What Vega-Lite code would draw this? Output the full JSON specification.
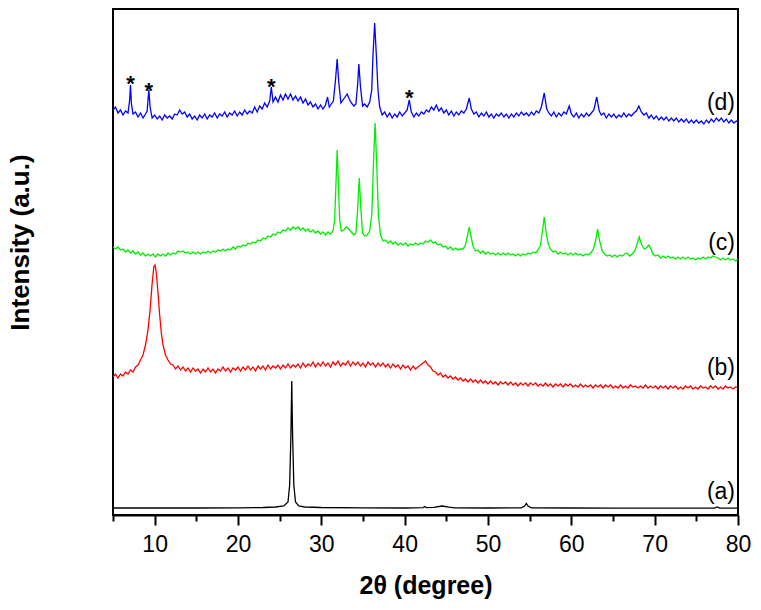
{
"$schema": "https://vega.github.io/schema/vega-lite/v6.json",
"width": 625, "height": 506,
"autosize": "none",
"padding": {"left": 113, "top": 9, "right": 23, "bottom": 95},
"background": "white",
"config": {"view": {"stroke": "black", "strokeWidth": 2}, "font": "Liberation Sans"},
"datasets": {
"xrd": [
{"s":"a","x":5,"y":7},{"s":"a","x":10,"y":7},{"s":"a","x":15,"y":7},{"s":"a","x":20,"y":7.2},{"s":"a","x":23,"y":7.5},{"s":"a","x":24.5,"y":8},{"s":"a","x":25.5,"y":9},{"s":"a","x":26,"y":13},{"s":"a","x":26.2,"y":30},{"s":"a","x":26.35,"y":80},{"s":"a","x":26.45,"y":134},{"s":"a","x":26.55,"y":80},{"s":"a","x":26.7,"y":30},{"s":"a","x":26.9,"y":13},{"s":"a","x":27.3,"y":9},{"s":"a","x":28,"y":8},{"s":"a","x":30,"y":7.5},{"s":"a","x":35,"y":7.2},{"s":"a","x":40,"y":7},{"s":"a","x":42.2,"y":7.3},{"s":"a","x":42.4,"y":8.5},{"s":"a","x":42.6,"y":7.4},{"s":"a","x":43.5,"y":7.6},{"s":"a","x":44.5,"y":9},{"s":"a","x":45.3,"y":7.8},{"s":"a","x":46,"y":7.2},{"s":"a","x":50,"y":7},{"s":"a","x":54,"y":7.2},{"s":"a","x":54.4,"y":9},{"s":"a","x":54.6,"y":11.5},{"s":"a","x":54.8,"y":9},{"s":"a","x":55.2,"y":7.2},{"s":"a","x":60,"y":7},{"s":"a","x":65,"y":6.8},{"s":"a","x":70,"y":6.8},{"s":"a","x":77.2,"y":6.8},{"s":"a","x":77.5,"y":8},{"s":"a","x":77.8,"y":6.8},{"s":"a","x":80,"y":6.8},
{"s":"b","x":5.0,"y":138},{"s":"b","x":5.3,"y":141},{"s":"b","x":5.6,"y":137},{"s":"b","x":5.9,"y":141},{"s":"b","x":6.2,"y":139},{"s":"b","x":6.5,"y":143},{"s":"b","x":6.8,"y":141},{"s":"b","x":7.1,"y":145},{"s":"b","x":7.4,"y":143},{"s":"b","x":7.7,"y":148},{"s":"b","x":8.0,"y":150},{"s":"b","x":8.3,"y":155},{"s":"b","x":8.6,"y":160},{"s":"b","x":8.9,"y":170},{"s":"b","x":9.2,"y":185},{"s":"b","x":9.45,"y":205},{"s":"b","x":9.7,"y":232},{"s":"b","x":9.9,"y":248},{"s":"b","x":10.05,"y":250},{"s":"b","x":10.2,"y":242},{"s":"b","x":10.4,"y":222},{"s":"b","x":10.6,"y":200},{"s":"b","x":10.8,"y":182},{"s":"b","x":11.0,"y":170},{"s":"b","x":11.3,"y":160},{"s":"b","x":11.6,"y":155},{"s":"b","x":11.9,"y":151},{"s":"b","x":12.2,"y":150},{"s":"b","x":12.5,"y":146},{"s":"b","x":12.8,"y":149},{"s":"b","x":13.1,"y":145},{"s":"b","x":13.4,"y":148},{"s":"b","x":13.7,"y":144},{"s":"b","x":14.0,"y":147},{"s":"b","x":14.3,"y":143},{"s":"b","x":14.6,"y":147},{"s":"b","x":14.9,"y":144},{"s":"b","x":15.2,"y":146},{"s":"b","x":15.5,"y":142},{"s":"b","x":15.8,"y":146},{"s":"b","x":16.1,"y":143},{"s":"b","x":16.4,"y":147},{"s":"b","x":16.7,"y":143},{"s":"b","x":17.0,"y":146},{"s":"b","x":17.3,"y":142},{"s":"b","x":17.6,"y":146},{"s":"b","x":17.9,"y":144},{"s":"b","x":18.2,"y":148},{"s":"b","x":18.5,"y":144},{"s":"b","x":18.8,"y":147},{"s":"b","x":19.1,"y":143},{"s":"b","x":19.4,"y":147},{"s":"b","x":19.7,"y":145},{"s":"b","x":20.0,"y":148},{"s":"b","x":20.3,"y":144},{"s":"b","x":20.6,"y":148},{"s":"b","x":20.9,"y":145},{"s":"b","x":21.2,"y":149},{"s":"b","x":21.5,"y":145},{"s":"b","x":21.8,"y":148},{"s":"b","x":22.1,"y":144},{"s":"b","x":22.4,"y":149},{"s":"b","x":22.7,"y":146},{"s":"b","x":23.0,"y":149},{"s":"b","x":23.3,"y":145},{"s":"b","x":23.6,"y":150},{"s":"b","x":23.9,"y":146},{"s":"b","x":24.2,"y":149},{"s":"b","x":24.5,"y":147},{"s":"b","x":24.8,"y":150},{"s":"b","x":25.1,"y":146},{"s":"b","x":25.4,"y":150},{"s":"b","x":25.7,"y":147},{"s":"b","x":26.0,"y":151},{"s":"b","x":26.3,"y":147},{"s":"b","x":26.6,"y":150},{"s":"b","x":26.9,"y":148},{"s":"b","x":27.2,"y":151},{"s":"b","x":27.5,"y":147},{"s":"b","x":27.8,"y":152},{"s":"b","x":28.1,"y":148},{"s":"b","x":28.4,"y":151},{"s":"b","x":28.7,"y":149},{"s":"b","x":29.0,"y":153},{"s":"b","x":29.3,"y":148},{"s":"b","x":29.6,"y":152},{"s":"b","x":29.9,"y":149},{"s":"b","x":30.2,"y":153},{"s":"b","x":30.5,"y":149},{"s":"b","x":30.8,"y":152},{"s":"b","x":31.1,"y":148},{"s":"b","x":31.4,"y":153},{"s":"b","x":31.7,"y":150},{"s":"b","x":32.0,"y":154},{"s":"b","x":32.3,"y":149},{"s":"b","x":32.6,"y":152},{"s":"b","x":32.9,"y":150},{"s":"b","x":33.2,"y":154},{"s":"b","x":33.5,"y":149},{"s":"b","x":33.8,"y":153},{"s":"b","x":34.1,"y":150},{"s":"b","x":34.4,"y":153},{"s":"b","x":34.7,"y":149},{"s":"b","x":35.0,"y":152},{"s":"b","x":35.3,"y":148},{"s":"b","x":35.6,"y":153},{"s":"b","x":35.9,"y":150},{"s":"b","x":36.2,"y":152},{"s":"b","x":36.5,"y":148},{"s":"b","x":36.8,"y":152},{"s":"b","x":37.1,"y":149},{"s":"b","x":37.4,"y":152},{"s":"b","x":37.7,"y":148},{"s":"b","x":38.0,"y":151},{"s":"b","x":38.3,"y":147},{"s":"b","x":38.6,"y":151},{"s":"b","x":38.9,"y":148},{"s":"b","x":39.2,"y":150},{"s":"b","x":39.5,"y":146},{"s":"b","x":39.8,"y":150},{"s":"b","x":40.1,"y":147},{"s":"b","x":40.4,"y":149},{"s":"b","x":40.7,"y":145},{"s":"b","x":41.0,"y":149},{"s":"b","x":41.3,"y":146},{"s":"b","x":41.6,"y":148},{"s":"b","x":41.9,"y":150},{"s":"b","x":42.2,"y":152},{"s":"b","x":42.5,"y":154},{"s":"b","x":42.8,"y":150},{"s":"b","x":43.1,"y":148},{"s":"b","x":43.4,"y":144},{"s":"b","x":43.7,"y":143},{"s":"b","x":44.0,"y":140},{"s":"b","x":44.3,"y":142},{"s":"b","x":44.6,"y":138},{"s":"b","x":44.9,"y":140},{"s":"b","x":45.2,"y":137},{"s":"b","x":45.5,"y":139},{"s":"b","x":45.8,"y":136},{"s":"b","x":46.1,"y":138},{"s":"b","x":46.4,"y":135},{"s":"b","x":46.7,"y":137},{"s":"b","x":47.0,"y":134},{"s":"b","x":47.3,"y":136},{"s":"b","x":47.6,"y":133},{"s":"b","x":47.9,"y":136},{"s":"b","x":48.2,"y":133},{"s":"b","x":48.5,"y":135},{"s":"b","x":48.8,"y":132},{"s":"b","x":49.1,"y":135},{"s":"b","x":49.4,"y":132},{"s":"b","x":49.7,"y":134},{"s":"b","x":50.0,"y":131},{"s":"b","x":50.3,"y":134},{"s":"b","x":50.6,"y":131},{"s":"b","x":50.9,"y":133},{"s":"b","x":51.2,"y":130},{"s":"b","x":51.5,"y":133},{"s":"b","x":51.8,"y":131},{"s":"b","x":52.1,"y":133},{"s":"b","x":52.4,"y":130},{"s":"b","x":52.7,"y":133},{"s":"b","x":53.0,"y":130},{"s":"b","x":53.3,"y":132},{"s":"b","x":53.6,"y":129},{"s":"b","x":53.9,"y":132},{"s":"b","x":54.2,"y":130},{"s":"b","x":54.5,"y":132},{"s":"b","x":54.8,"y":129},{"s":"b","x":55.1,"y":132},{"s":"b","x":55.4,"y":130},{"s":"b","x":55.7,"y":132},{"s":"b","x":56.0,"y":129},{"s":"b","x":56.3,"y":131},{"s":"b","x":56.6,"y":129},{"s":"b","x":56.9,"y":132},{"s":"b","x":57.2,"y":129},{"s":"b","x":57.5,"y":131},{"s":"b","x":57.8,"y":128},{"s":"b","x":58.1,"y":131},{"s":"b","x":58.4,"y":129},{"s":"b","x":58.7,"y":131},{"s":"b","x":59.0,"y":128},{"s":"b","x":59.3,"y":131},{"s":"b","x":59.6,"y":129},{"s":"b","x":59.9,"y":131},{"s":"b","x":60.2,"y":128},{"s":"b","x":60.5,"y":130},{"s":"b","x":60.8,"y":128},{"s":"b","x":61.1,"y":131},{"s":"b","x":61.4,"y":128},{"s":"b","x":61.7,"y":130},{"s":"b","x":62.0,"y":128},{"s":"b","x":62.3,"y":130},{"s":"b","x":62.6,"y":127},{"s":"b","x":62.9,"y":130},{"s":"b","x":63.2,"y":128},{"s":"b","x":63.5,"y":130},{"s":"b","x":63.8,"y":127},{"s":"b","x":64.1,"y":130},{"s":"b","x":64.4,"y":128},{"s":"b","x":64.7,"y":130},{"s":"b","x":65.0,"y":127},{"s":"b","x":65.3,"y":129},{"s":"b","x":65.6,"y":127},{"s":"b","x":65.9,"y":130},{"s":"b","x":66.2,"y":127},{"s":"b","x":66.5,"y":129},{"s":"b","x":66.8,"y":127},{"s":"b","x":67.1,"y":130},{"s":"b","x":67.4,"y":128},{"s":"b","x":67.7,"y":129},{"s":"b","x":68.0,"y":127},{"s":"b","x":68.3,"y":129},{"s":"b","x":68.6,"y":127},{"s":"b","x":68.9,"y":130},{"s":"b","x":69.2,"y":127},{"s":"b","x":69.5,"y":129},{"s":"b","x":69.8,"y":127},{"s":"b","x":70.1,"y":129},{"s":"b","x":70.4,"y":126},{"s":"b","x":70.7,"y":129},{"s":"b","x":71.0,"y":127},{"s":"b","x":71.3,"y":129},{"s":"b","x":71.6,"y":126},{"s":"b","x":71.9,"y":129},{"s":"b","x":72.2,"y":127},{"s":"b","x":72.5,"y":129},{"s":"b","x":72.8,"y":126},{"s":"b","x":73.1,"y":128},{"s":"b","x":73.4,"y":126},{"s":"b","x":73.7,"y":129},{"s":"b","x":74.0,"y":127},{"s":"b","x":74.3,"y":129},{"s":"b","x":74.6,"y":126},{"s":"b","x":74.9,"y":128},{"s":"b","x":75.2,"y":126},{"s":"b","x":75.5,"y":129},{"s":"b","x":75.8,"y":127},{"s":"b","x":76.1,"y":128},{"s":"b","x":76.4,"y":126},{"s":"b","x":76.7,"y":129},{"s":"b","x":77.0,"y":127},{"s":"b","x":77.3,"y":129},{"s":"b","x":77.6,"y":126},{"s":"b","x":77.9,"y":128},{"s":"b","x":78.2,"y":126},{"s":"b","x":78.5,"y":129},{"s":"b","x":78.8,"y":127},{"s":"b","x":79.1,"y":128},{"s":"b","x":79.4,"y":126},{"s":"b","x":79.7,"y":128},{"s":"b","x":80.0,"y":127},
{"s":"c","x":5.0,"y":268},{"s":"c","x":5.3,"y":266},{"s":"c","x":5.6,"y":268},{"s":"c","x":5.9,"y":265},{"s":"c","x":6.2,"y":266},{"s":"c","x":6.5,"y":263},{"s":"c","x":6.8,"y":265},{"s":"c","x":7.1,"y":262},{"s":"c","x":7.4,"y":264},{"s":"c","x":7.7,"y":261},{"s":"c","x":8.0,"y":263},{"s":"c","x":8.3,"y":260},{"s":"c","x":8.6,"y":262},{"s":"c","x":8.9,"y":259},{"s":"c","x":9.2,"y":261},{"s":"c","x":9.5,"y":259},{"s":"c","x":9.8,"y":261},{"s":"c","x":10.1,"y":258},{"s":"c","x":10.4,"y":261},{"s":"c","x":10.7,"y":259},{"s":"c","x":11.0,"y":261},{"s":"c","x":11.3,"y":259},{"s":"c","x":11.6,"y":262},{"s":"c","x":11.9,"y":260},{"s":"c","x":12.2,"y":262},{"s":"c","x":12.5,"y":261},{"s":"c","x":12.8,"y":264},{"s":"c","x":13.1,"y":263},{"s":"c","x":13.4,"y":264},{"s":"c","x":13.7,"y":262},{"s":"c","x":14.0,"y":263},{"s":"c","x":14.3,"y":261},{"s":"c","x":14.6,"y":263},{"s":"c","x":14.9,"y":261},{"s":"c","x":15.2,"y":263},{"s":"c","x":15.5,"y":261},{"s":"c","x":15.8,"y":263},{"s":"c","x":16.1,"y":262},{"s":"c","x":16.4,"y":264},{"s":"c","x":16.7,"y":262},{"s":"c","x":17.0,"y":264},{"s":"c","x":17.3,"y":263},{"s":"c","x":17.6,"y":265},{"s":"c","x":17.9,"y":264},{"s":"c","x":18.2,"y":266},{"s":"c","x":18.5,"y":264},{"s":"c","x":18.8,"y":266},{"s":"c","x":19.1,"y":265},{"s":"c","x":19.4,"y":268},{"s":"c","x":19.7,"y":266},{"s":"c","x":20.0,"y":269},{"s":"c","x":20.3,"y":268},{"s":"c","x":20.6,"y":270},{"s":"c","x":20.9,"y":269},{"s":"c","x":21.2,"y":272},{"s":"c","x":21.5,"y":271},{"s":"c","x":21.8,"y":273},{"s":"c","x":22.1,"y":272},{"s":"c","x":22.4,"y":275},{"s":"c","x":22.7,"y":274},{"s":"c","x":23.0,"y":277},{"s":"c","x":23.3,"y":276},{"s":"c","x":23.6,"y":279},{"s":"c","x":23.9,"y":278},{"s":"c","x":24.2,"y":281},{"s":"c","x":24.5,"y":280},{"s":"c","x":24.8,"y":283},{"s":"c","x":25.1,"y":282},{"s":"c","x":25.4,"y":285},{"s":"c","x":25.7,"y":284},{"s":"c","x":26.0,"y":287},{"s":"c","x":26.3,"y":285},{"s":"c","x":26.6,"y":288},{"s":"c","x":26.9,"y":286},{"s":"c","x":27.2,"y":288},{"s":"c","x":27.5,"y":285},{"s":"c","x":27.8,"y":287},{"s":"c","x":28.1,"y":284},{"s":"c","x":28.4,"y":286},{"s":"c","x":28.7,"y":283},{"s":"c","x":29.0,"y":285},{"s":"c","x":29.3,"y":282},{"s":"c","x":29.6,"y":284},{"s":"c","x":29.9,"y":281},{"s":"c","x":30.2,"y":283},{"s":"c","x":30.5,"y":280},{"s":"c","x":30.8,"y":283},{"s":"c","x":31.1,"y":281},{"s":"c","x":31.4,"y":284},{"s":"c","x":31.6,"y":295},{"s":"c","x":31.75,"y":330},{"s":"c","x":31.9,"y":365},{"s":"c","x":32.05,"y":330},{"s":"c","x":32.2,"y":295},{"s":"c","x":32.4,"y":284},{"s":"c","x":32.7,"y":285},{"s":"c","x":33.0,"y":288},{"s":"c","x":33.3,"y":286},{"s":"c","x":33.6,"y":283},{"s":"c","x":33.9,"y":280},{"s":"c","x":34.15,"y":282},{"s":"c","x":34.35,"y":305},{"s":"c","x":34.55,"y":337},{"s":"c","x":34.75,"y":305},{"s":"c","x":34.95,"y":282},{"s":"c","x":35.2,"y":279},{"s":"c","x":35.5,"y":280},{"s":"c","x":35.8,"y":284},{"s":"c","x":36.05,"y":300},{"s":"c","x":36.25,"y":350},{"s":"c","x":36.45,"y":392},{"s":"c","x":36.65,"y":350},{"s":"c","x":36.85,"y":300},{"s":"c","x":37.1,"y":280},{"s":"c","x":37.4,"y":274},{"s":"c","x":37.7,"y":275},{"s":"c","x":38.0,"y":272},{"s":"c","x":38.3,"y":274},{"s":"c","x":38.6,"y":271},{"s":"c","x":38.9,"y":273},{"s":"c","x":39.2,"y":270},{"s":"c","x":39.5,"y":272},{"s":"c","x":39.8,"y":270},{"s":"c","x":40.1,"y":272},{"s":"c","x":40.4,"y":269},{"s":"c","x":40.7,"y":271},{"s":"c","x":41.0,"y":270},{"s":"c","x":41.3,"y":272},{"s":"c","x":41.6,"y":270},{"s":"c","x":41.9,"y":272},{"s":"c","x":42.2,"y":271},{"s":"c","x":42.5,"y":274},{"s":"c","x":42.8,"y":273},{"s":"c","x":43.1,"y":275},{"s":"c","x":43.4,"y":272},{"s":"c","x":43.7,"y":273},{"s":"c","x":44.0,"y":270},{"s":"c","x":44.3,"y":271},{"s":"c","x":44.6,"y":268},{"s":"c","x":44.9,"y":269},{"s":"c","x":45.2,"y":266},{"s":"c","x":45.5,"y":268},{"s":"c","x":45.8,"y":265},{"s":"c","x":46.1,"y":267},{"s":"c","x":46.4,"y":265},{"s":"c","x":46.7,"y":266},{"s":"c","x":47.0,"y":266},{"s":"c","x":47.3,"y":270},{"s":"c","x":47.55,"y":280},{"s":"c","x":47.75,"y":288},{"s":"c","x":47.95,"y":279},{"s":"c","x":48.2,"y":269},{"s":"c","x":48.5,"y":264},{"s":"c","x":48.8,"y":265},{"s":"c","x":49.1,"y":262},{"s":"c","x":49.4,"y":264},{"s":"c","x":49.7,"y":261},{"s":"c","x":50.0,"y":263},{"s":"c","x":50.3,"y":261},{"s":"c","x":50.6,"y":262},{"s":"c","x":50.9,"y":260},{"s":"c","x":51.2,"y":262},{"s":"c","x":51.5,"y":260},{"s":"c","x":51.8,"y":262},{"s":"c","x":52.1,"y":260},{"s":"c","x":52.4,"y":262},{"s":"c","x":52.7,"y":260},{"s":"c","x":53.0,"y":261},{"s":"c","x":53.3,"y":259},{"s":"c","x":53.6,"y":261},{"s":"c","x":53.9,"y":259},{"s":"c","x":54.2,"y":261},{"s":"c","x":54.5,"y":260},{"s":"c","x":54.8,"y":262},{"s":"c","x":55.1,"y":261},{"s":"c","x":55.4,"y":263},{"s":"c","x":55.7,"y":262},{"s":"c","x":56.0,"y":265},{"s":"c","x":56.3,"y":270},{"s":"c","x":56.55,"y":285},{"s":"c","x":56.75,"y":298},{"s":"c","x":56.95,"y":284},{"s":"c","x":57.2,"y":272},{"s":"c","x":57.5,"y":266},{"s":"c","x":57.8,"y":263},{"s":"c","x":58.1,"y":264},{"s":"c","x":58.4,"y":261},{"s":"c","x":58.7,"y":263},{"s":"c","x":59.0,"y":261},{"s":"c","x":59.3,"y":262},{"s":"c","x":59.6,"y":260},{"s":"c","x":59.9,"y":262},{"s":"c","x":60.2,"y":260},{"s":"c","x":60.5,"y":262},{"s":"c","x":60.8,"y":260},{"s":"c","x":61.1,"y":261},{"s":"c","x":61.4,"y":259},{"s":"c","x":61.7,"y":261},{"s":"c","x":62.0,"y":260},{"s":"c","x":62.3,"y":262},{"s":"c","x":62.6,"y":265},{"s":"c","x":62.9,"y":274},{"s":"c","x":63.15,"y":286},{"s":"c","x":63.4,"y":274},{"s":"c","x":63.7,"y":264},{"s":"c","x":64.0,"y":261},{"s":"c","x":64.3,"y":259},{"s":"c","x":64.6,"y":260},{"s":"c","x":64.9,"y":258},{"s":"c","x":65.2,"y":260},{"s":"c","x":65.5,"y":258},{"s":"c","x":65.8,"y":260},{"s":"c","x":66.1,"y":259},{"s":"c","x":66.4,"y":261},{"s":"c","x":66.7,"y":262},{"s":"c","x":67.0,"y":259},{"s":"c","x":67.3,"y":261},{"s":"c","x":67.6,"y":264},{"s":"c","x":67.85,"y":270},{"s":"c","x":68.15,"y":278},{"s":"c","x":68.45,"y":270},{"s":"c","x":68.75,"y":266},{"s":"c","x":69.0,"y":267},{"s":"c","x":69.3,"y":270},{"s":"c","x":69.55,"y":266},{"s":"c","x":69.8,"y":261},{"s":"c","x":70.1,"y":259},{"s":"c","x":70.4,"y":260},{"s":"c","x":70.7,"y":257},{"s":"c","x":71.0,"y":259},{"s":"c","x":71.3,"y":257},{"s":"c","x":71.6,"y":259},{"s":"c","x":71.9,"y":257},{"s":"c","x":72.2,"y":258},{"s":"c","x":72.5,"y":256},{"s":"c","x":72.8,"y":258},{"s":"c","x":73.1,"y":256},{"s":"c","x":73.4,"y":258},{"s":"c","x":73.7,"y":256},{"s":"c","x":74.0,"y":258},{"s":"c","x":74.3,"y":256},{"s":"c","x":74.6,"y":257},{"s":"c","x":74.9,"y":255},{"s":"c","x":75.2,"y":257},{"s":"c","x":75.5,"y":256},{"s":"c","x":75.8,"y":258},{"s":"c","x":76.1,"y":256},{"s":"c","x":76.4,"y":258},{"s":"c","x":76.7,"y":257},{"s":"c","x":77.0,"y":259},{"s":"c","x":77.3,"y":258},{"s":"c","x":77.6,"y":257},{"s":"c","x":77.9,"y":255},{"s":"c","x":78.2,"y":257},{"s":"c","x":78.5,"y":255},{"s":"c","x":78.8,"y":257},{"s":"c","x":79.1,"y":255},{"s":"c","x":79.4,"y":256},{"s":"c","x":79.7,"y":254},{"s":"c","x":80.0,"y":256},
{"s":"d","x":5.0,"y":405},{"s":"d","x":5.3,"y":408},{"s":"d","x":5.6,"y":402},{"s":"d","x":5.9,"y":405},{"s":"d","x":6.2,"y":400},{"s":"d","x":6.5,"y":404},{"s":"d","x":6.8,"y":402},{"s":"d","x":7.0,"y":415},{"s":"d","x":7.1,"y":430},{"s":"d","x":7.2,"y":412},{"s":"d","x":7.4,"y":401},{"s":"d","x":7.7,"y":403},{"s":"d","x":8.0,"y":398},{"s":"d","x":8.3,"y":402},{"s":"d","x":8.6,"y":397},{"s":"d","x":8.9,"y":401},{"s":"d","x":9.1,"y":404},{"s":"d","x":9.2,"y":415},{"s":"d","x":9.3,"y":425},{"s":"d","x":9.45,"y":408},{"s":"d","x":9.7,"y":397},{"s":"d","x":10.0,"y":400},{"s":"d","x":10.3,"y":396},{"s":"d","x":10.6,"y":399},{"s":"d","x":10.9,"y":395},{"s":"d","x":11.2,"y":400},{"s":"d","x":11.5,"y":397},{"s":"d","x":11.8,"y":399},{"s":"d","x":12.1,"y":396},{"s":"d","x":12.4,"y":401},{"s":"d","x":12.7,"y":400},{"s":"d","x":13.0,"y":405},{"s":"d","x":13.3,"y":401},{"s":"d","x":13.6,"y":403},{"s":"d","x":13.9,"y":398},{"s":"d","x":14.2,"y":401},{"s":"d","x":14.5,"y":396},{"s":"d","x":14.8,"y":399},{"s":"d","x":15.1,"y":395},{"s":"d","x":15.4,"y":400},{"s":"d","x":15.7,"y":397},{"s":"d","x":16.0,"y":401},{"s":"d","x":16.3,"y":396},{"s":"d","x":16.6,"y":400},{"s":"d","x":16.9,"y":398},{"s":"d","x":17.2,"y":402},{"s":"d","x":17.5,"y":397},{"s":"d","x":17.8,"y":401},{"s":"d","x":18.1,"y":399},{"s":"d","x":18.4,"y":403},{"s":"d","x":18.7,"y":398},{"s":"d","x":19.0,"y":402},{"s":"d","x":19.3,"y":400},{"s":"d","x":19.6,"y":404},{"s":"d","x":19.9,"y":399},{"s":"d","x":20.2,"y":403},{"s":"d","x":20.5,"y":400},{"s":"d","x":20.8,"y":405},{"s":"d","x":21.1,"y":401},{"s":"d","x":21.4,"y":404},{"s":"d","x":21.7,"y":402},{"s":"d","x":22.0,"y":408},{"s":"d","x":22.3,"y":403},{"s":"d","x":22.6,"y":409},{"s":"d","x":22.9,"y":406},{"s":"d","x":23.2,"y":412},{"s":"d","x":23.5,"y":408},{"s":"d","x":23.8,"y":414},{"s":"d","x":24.0,"y":428},{"s":"d","x":24.2,"y":413},{"s":"d","x":24.5,"y":418},{"s":"d","x":24.8,"y":413},{"s":"d","x":25.1,"y":420},{"s":"d","x":25.4,"y":415},{"s":"d","x":25.7,"y":421},{"s":"d","x":26.0,"y":416},{"s":"d","x":26.3,"y":421},{"s":"d","x":26.6,"y":415},{"s":"d","x":26.9,"y":419},{"s":"d","x":27.2,"y":414},{"s":"d","x":27.5,"y":418},{"s":"d","x":27.8,"y":412},{"s":"d","x":28.1,"y":416},{"s":"d","x":28.4,"y":410},{"s":"d","x":28.7,"y":413},{"s":"d","x":29.0,"y":408},{"s":"d","x":29.3,"y":411},{"s":"d","x":29.6,"y":406},{"s":"d","x":29.9,"y":410},{"s":"d","x":30.2,"y":406},{"s":"d","x":30.5,"y":410},{"s":"d","x":30.75,"y":418},{"s":"d","x":30.95,"y":408},{"s":"d","x":31.2,"y":411},{"s":"d","x":31.45,"y":414},{"s":"d","x":31.7,"y":435},{"s":"d","x":31.9,"y":456},{"s":"d","x":32.1,"y":432},{"s":"d","x":32.35,"y":412},{"s":"d","x":32.6,"y":415},{"s":"d","x":32.85,"y":418},{"s":"d","x":33.1,"y":421},{"s":"d","x":33.35,"y":416},{"s":"d","x":33.6,"y":412},{"s":"d","x":33.9,"y":409},{"s":"d","x":34.15,"y":411},{"s":"d","x":34.35,"y":430},{"s":"d","x":34.5,"y":451},{"s":"d","x":34.7,"y":428},{"s":"d","x":34.95,"y":409},{"s":"d","x":35.2,"y":411},{"s":"d","x":35.5,"y":408},{"s":"d","x":35.8,"y":413},{"s":"d","x":36.05,"y":425},{"s":"d","x":36.2,"y":460},{"s":"d","x":36.4,"y":492},{"s":"d","x":36.6,"y":460},{"s":"d","x":36.8,"y":425},{"s":"d","x":37.0,"y":408},{"s":"d","x":37.3,"y":400},{"s":"d","x":37.6,"y":403},{"s":"d","x":37.9,"y":398},{"s":"d","x":38.2,"y":402},{"s":"d","x":38.5,"y":397},{"s":"d","x":38.8,"y":401},{"s":"d","x":39.1,"y":398},{"s":"d","x":39.4,"y":403},{"s":"d","x":39.7,"y":399},{"s":"d","x":40.0,"y":402},{"s":"d","x":40.3,"y":405},{"s":"d","x":40.55,"y":415},{"s":"d","x":40.8,"y":403},{"s":"d","x":41.1,"y":398},{"s":"d","x":41.4,"y":402},{"s":"d","x":41.7,"y":399},{"s":"d","x":42.0,"y":403},{"s":"d","x":42.3,"y":401},{"s":"d","x":42.6,"y":405},{"s":"d","x":42.9,"y":403},{"s":"d","x":43.2,"y":408},{"s":"d","x":43.5,"y":405},{"s":"d","x":43.8,"y":410},{"s":"d","x":44.1,"y":404},{"s":"d","x":44.4,"y":407},{"s":"d","x":44.7,"y":402},{"s":"d","x":45.0,"y":405},{"s":"d","x":45.3,"y":400},{"s":"d","x":45.6,"y":404},{"s":"d","x":45.9,"y":399},{"s":"d","x":46.2,"y":403},{"s":"d","x":46.5,"y":400},{"s":"d","x":46.8,"y":404},{"s":"d","x":47.1,"y":402},{"s":"d","x":47.4,"y":406},{"s":"d","x":47.75,"y":417},{"s":"d","x":48.0,"y":406},{"s":"d","x":48.3,"y":401},{"s":"d","x":48.6,"y":403},{"s":"d","x":48.9,"y":398},{"s":"d","x":49.2,"y":402},{"s":"d","x":49.5,"y":399},{"s":"d","x":49.8,"y":403},{"s":"d","x":50.1,"y":398},{"s":"d","x":50.4,"y":401},{"s":"d","x":50.7,"y":397},{"s":"d","x":51.0,"y":401},{"s":"d","x":51.3,"y":399},{"s":"d","x":51.6,"y":402},{"s":"d","x":51.9,"y":398},{"s":"d","x":52.2,"y":401},{"s":"d","x":52.5,"y":397},{"s":"d","x":52.8,"y":401},{"s":"d","x":53.1,"y":398},{"s":"d","x":53.4,"y":402},{"s":"d","x":53.7,"y":399},{"s":"d","x":54.0,"y":403},{"s":"d","x":54.3,"y":400},{"s":"d","x":54.6,"y":402},{"s":"d","x":54.9,"y":399},{"s":"d","x":55.2,"y":403},{"s":"d","x":55.5,"y":400},{"s":"d","x":55.8,"y":404},{"s":"d","x":56.1,"y":402},{"s":"d","x":56.4,"y":408},{"s":"d","x":56.75,"y":422},{"s":"d","x":57.05,"y":406},{"s":"d","x":57.3,"y":402},{"s":"d","x":57.6,"y":399},{"s":"d","x":57.9,"y":403},{"s":"d","x":58.2,"y":398},{"s":"d","x":58.5,"y":402},{"s":"d","x":58.8,"y":399},{"s":"d","x":59.1,"y":403},{"s":"d","x":59.4,"y":401},{"s":"d","x":59.75,"y":409},{"s":"d","x":60.0,"y":401},{"s":"d","x":60.3,"y":398},{"s":"d","x":60.6,"y":402},{"s":"d","x":60.9,"y":397},{"s":"d","x":61.2,"y":401},{"s":"d","x":61.5,"y":398},{"s":"d","x":61.8,"y":402},{"s":"d","x":62.1,"y":399},{"s":"d","x":62.4,"y":402},{"s":"d","x":62.7,"y":405},{"s":"d","x":63.05,"y":418},{"s":"d","x":63.35,"y":404},{"s":"d","x":63.6,"y":400},{"s":"d","x":63.9,"y":402},{"s":"d","x":64.2,"y":397},{"s":"d","x":64.5,"y":401},{"s":"d","x":64.8,"y":398},{"s":"d","x":65.1,"y":401},{"s":"d","x":65.4,"y":397},{"s":"d","x":65.7,"y":400},{"s":"d","x":66.0,"y":398},{"s":"d","x":66.3,"y":402},{"s":"d","x":66.6,"y":398},{"s":"d","x":66.9,"y":401},{"s":"d","x":67.2,"y":399},{"s":"d","x":67.5,"y":402},{"s":"d","x":67.8,"y":404},{"s":"d","x":68.1,"y":409},{"s":"d","x":68.4,"y":403},{"s":"d","x":68.7,"y":400},{"s":"d","x":69.0,"y":402},{"s":"d","x":69.3,"y":397},{"s":"d","x":69.6,"y":400},{"s":"d","x":69.9,"y":396},{"s":"d","x":70.2,"y":399},{"s":"d","x":70.5,"y":395},{"s":"d","x":70.8,"y":398},{"s":"d","x":71.1,"y":395},{"s":"d","x":71.4,"y":398},{"s":"d","x":71.7,"y":394},{"s":"d","x":72.0,"y":397},{"s":"d","x":72.3,"y":394},{"s":"d","x":72.6,"y":397},{"s":"d","x":72.9,"y":393},{"s":"d","x":73.2,"y":396},{"s":"d","x":73.5,"y":393},{"s":"d","x":73.8,"y":396},{"s":"d","x":74.1,"y":392},{"s":"d","x":74.4,"y":395},{"s":"d","x":74.7,"y":392},{"s":"d","x":75.0,"y":395},{"s":"d","x":75.3,"y":392},{"s":"d","x":75.6,"y":394},{"s":"d","x":75.9,"y":391},{"s":"d","x":76.2,"y":395},{"s":"d","x":76.5,"y":392},{"s":"d","x":76.8,"y":396},{"s":"d","x":77.1,"y":393},{"s":"d","x":77.4,"y":397},{"s":"d","x":77.7,"y":394},{"s":"d","x":78.0,"y":397},{"s":"d","x":78.3,"y":393},{"s":"d","x":78.6,"y":396},{"s":"d","x":78.9,"y":392},{"s":"d","x":79.2,"y":395},{"s":"d","x":79.5,"y":392},{"s":"d","x":79.8,"y":394},{"s":"d","x":80.0,"y":393}
],
"labels": [
{"t":"(a)","x":79.64,"y":23},{"t":"(b)","x":79.64,"y":147},{"t":"(c)","x":79.64,"y":272},{"t":"(d)","x":79.64,"y":412}
],
"stars": [
{"x":7.1,"y":424},{"x":9.3,"y":417},{"x":24.0,"y":421},{"x":40.55,"y":410}
]
},
"layer": [
{"data": {"name": "xrd"},
 "mark": {"type": "line", "strokeWidth": 1.3, "clip": true},
 "encoding": {
  "x": {"field": "x", "type": "quantitative",
        "scale": {"domain": [5, 80], "nice": false, "zero": false},
        "axis": {"values": [5,10,15,20,25,30,35,40,45,50,55,60,65,70,75,80],
                 "labelExpr": "datum.value % 10 === 0 ? datum.label : ''",
                 "tickSize": {"condition": {"test": "datum.value % 10 === 0", "value": 10}, "value": 6},
                 "tickColor": "black", "tickWidth": 2, "domainColor": "black", "domainWidth": 2,
                 "labelFontSize": 23, "labelColor": "black", "labelFlush": false, "labelOverlap": false,
                 "labelBaseline": "alphabetic", "labelPadding": 26,
                 "grid": false,
                 "title": "2θ (degree)", "titleFontSize": 25, "titleFontWeight": "bold", "titleColor": "black",
                 "titleBaseline": "alphabetic", "titleY": 78}},
  "y": {"field": "y", "type": "quantitative",
        "scale": {"domain": [0, 506], "nice": false, "zero": false},
        "axis": {"ticks": false, "labels": false, "domain": false, "grid": false,
                 "title": "Intensity (a.u.)", "titleFontSize": 26, "titleFontWeight": "bold", "titleColor": "black",
                 "titleX": -93, "titleY": 233, "titleBaseline": "middle", "titleAlign": "center"}},
  "color": {"field": "s", "type": "nominal",
            "scale": {"domain": ["a","b","c","d"], "range": ["#000000","#ff0000","#00ee00","#0000ff"]},
            "legend": null}
 }},
{"data": {"name": "labels"},
 "mark": {"type": "text", "align": "right", "baseline": "middle", "fontSize": 23, "color": "black"},
 "encoding": {
  "x": {"field": "x", "type": "quantitative"},
  "y": {"field": "y", "type": "quantitative"},
  "text": {"field": "t"}
 }},
{"data": {"name": "stars"},
 "mark": {"type": "text", "align": "center", "baseline": "alphabetic", "fontSize": 22, "fontWeight": "bold", "color": "black"},
 "encoding": {
  "x": {"field": "x", "type": "quantitative"},
  "y": {"field": "y", "type": "quantitative"},
  "text": {"value": "*"}
 }}
]
}
